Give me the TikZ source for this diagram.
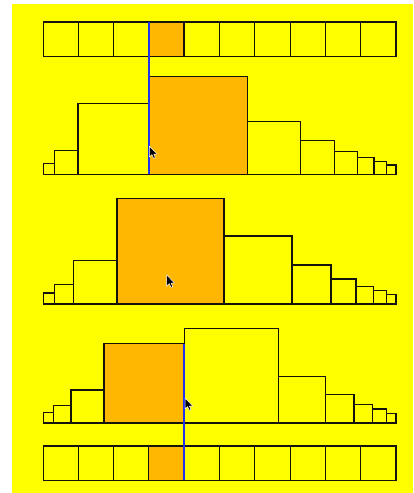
\documentclass[tikz,border=0pt]{standalone}
\usetikzlibrary{arrows.meta, calc}

\definecolor{bgyellow}{RGB}{255,255,0}
\definecolor{hotorange}{RGB}{255,183,0}
\definecolor{splitblue}{RGB}{30,50,240}
\definecolor{edgegray}{RGB}{20,20,10}

\tikzset{
    cell/.style={draw=edgegray, line width=1.1pt, fill=bgyellow},
    bar/.style={draw=edgegray, line width=1.1pt, fill=bgyellow},
    hotbar/.style={draw=edgegray, line width=1.1pt, fill=hotorange},
    splitline/.style={draw=splitblue, line width=1.8pt},
    pointer/.pic={
        \draw[fill=black, draw=white, line width=0.5pt, line join=round]
            (0,0) -- (0,11) -- (2.6,8.6) -- (4.3,12.4) -- (6,11.7)
            -- (4.4,8) -- (7.8,8) -- cycle;
    }
}

\begin{document}
\begin{tikzpicture}[x=1pt, y=-1pt]
        % --- Canvas ---
        \useasboundingbox (0,0) rectangle (413,493);
        \fill[bgyellow] (12,4) rectangle (413,493);

        % --- Top strip ---
        \foreach \i in {0,...,9}
            \draw[cell] ({43.3+35.27*\i},22) rectangle ++(35.27,34.3);
        \draw[hotbar] (148.7,22) rectangle ++(35.27,34.3);

        % --- Histogram 1 (split at the left edge) ---
        \foreach \a/\b in {43.3/54.3, 54.3/78, 78/148.7, 247.7/300.7, 300.7/334.3,
                           334.3/357.3, 357.3/374, 374/386.7, 386.7/396}
            \draw[bar] (\a,174.3) rectangle (\b,{174.3-\b+\a});
        \draw[hotbar] (148.7,174.3) rectangle (247.7,76.3);
        \draw[splitline] (148.7,22) -- (148.7,174.3);
        \pic at (149.3,146) {pointer};

        % --- Histogram 2 (pointer inside) ---
        \foreach \a/\b in {43.3/54.3, 54.3/73.7, 73.7/117, 224/292, 292/331,
                           331/356, 356/373.3, 373.3/386.7, 386.7/396}
            \draw[bar] (\a,304) rectangle (\b,{304-\b+\a});
        \draw[hotbar] (117,304) rectangle (224,198.3);
        \pic at (166.7,275) {pointer};

        % --- Histogram 3 (split at the right edge) ---
        \foreach \a/\b in {43.3/53.7, 53.7/71, 71/104, 184.3/278.7, 278.7/325.3,
                           325.3/354, 354/372.7, 372.7/386.7, 386.7/396}
            \draw[bar] (\a,423) rectangle (\b,{423-\b+\a});
        \draw[hotbar] (104,423) rectangle (184.3,343.7);

        % --- Bottom strip ---
        \foreach \i in {0,...,9}
            \draw[cell] ({43.3+35.27*\i},446) rectangle ++(35.27,34.3);
        \draw[hotbar] (148.7,446) rectangle ++(35.27,34.3);
        \draw[splitline] (184.3,343.7) -- (184.3,480.3);
        \pic at (185,398) {pointer};
    \end{tikzpicture}
\end{document}
